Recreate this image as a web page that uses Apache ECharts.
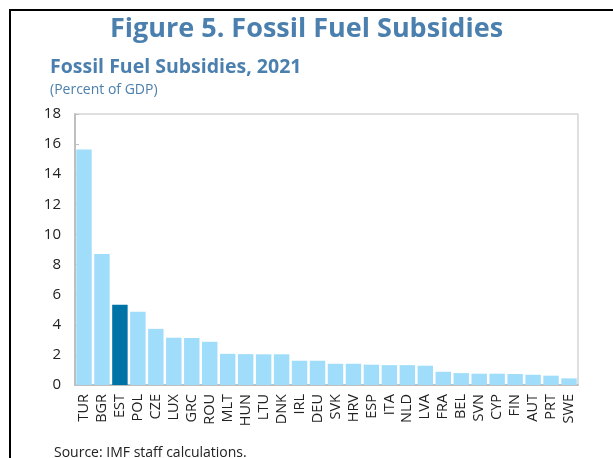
<!DOCTYPE html>
<html>
<head>
<meta charset="utf-8">
<script src="https://cdn.jsdelivr.net/npm/echarts@6/dist/echarts.min.js"></script>
<style>
  html, body { margin: 0; padding: 0; background: #fff; }
  #chart { width: 613px; height: 458px; }
</style>
</head>
<body>
<div id="chart"></div>
<script>
var countries = ["TUR", "BGR", "EST", "POL", "CZE", "LUX", "GRC", "ROU", "MLT", "HUN",
    "LTU", "DNK", "IRL", "DEU", "SVK", "HRV", "ESP", "ITA", "NLD", "LVA",
    "FRA", "BEL", "SVN", "CYP", "FIN", "AUT", "PRT", "SWE"];
var subsidies = [15.65, 8.7, 5.33, 4.86, 3.73, 3.14, 3.12, 2.87, 2.07, 2.05,
    2.04, 2.04, 1.61, 1.61, 1.41, 1.41, 1.35, 1.32, 1.32, 1.28,
    0.88, 0.79, 0.75, 0.75, 0.73, 0.68, 0.62, 0.44];
var highlight = "EST";

var lightBlue = "#A0DDFA";
var darkBlue = "#0073A6";
var titleBlue = "#4A7FAE";

var chart = echarts.init(document.getElementById("chart"));
var option = {
    animation: false,
    title: [{
        text: "Figure 5. Fossil Fuel Subsidies",
        left: "center",
        top: 11,
        textStyle: { color: titleBlue, fontSize: 27, fontWeight: "bold", fontFamily: "Open Sans" }
    }, {
        text: "Fossil Fuel Subsidies, 2021",
        left: 45,
        top: 52,
        textStyle: { color: titleBlue, fontSize: 19.5, fontWeight: "bold", fontFamily: "Open Sans" }
    }, {
        text: "(Percent of GDP)",
        left: 45,
        top: 78,
        textStyle: { color: titleBlue, fontSize: 14, fontWeight: "normal", fontFamily: "Open Sans" }
    }, {
        text: "Source: IMF staff calculations.",
        left: 49,
        top: 441,
        textStyle: { color: "#222", fontSize: 14, fontWeight: "normal", fontFamily: "Open Sans" }
    }],
    graphic: [{
        type: "rect",
        shape: { x: 10, y: 10, width: 700, height: 600 },
        style: { fill: "none", stroke: "#000", lineWidth: 2 },
        silent: true
    }],
    grid: {
        left: 75, right: 35, top: 114, bottom: 73,
        show: true,
        borderColor: "#BFBFBF",
        borderWidth: 1
    },
    xAxis: {
        type: "category",
        data: countries,
        axisLine: { lineStyle: { color: "#BFBFBF", width: 2 } },
        axisTick: { inside: true, length: 4, lineStyle: { color: "#BFBFBF" } },
        axisLabel: { rotate: 90, interval: 0, margin: 9, color: "#222", fontSize: 14.5, fontFamily: "Open Sans" }
    },
    yAxis: {
        type: "value",
        min: 0, max: 18, interval: 2,
        axisLine: { show: true, lineStyle: { color: "#BFBFBF", width: 2 } },
        axisTick: { show: true, inside: true, length: 4, lineStyle: { color: "#BFBFBF" } },
        splitLine: { show: false },
        axisLabel: { color: "#222", fontSize: 15, margin: 14, fontFamily: "Open Sans" }
    },
    series: [{
        type: "bar",
        barCategoryGap: "14%",
        data: subsidies.map(function (v, i) {
            return { value: v, itemStyle: { color: countries[i] === highlight ? darkBlue : lightBlue } };
        })
    }]
};
chart.setOption(option);
</script>
</body>
</html>
